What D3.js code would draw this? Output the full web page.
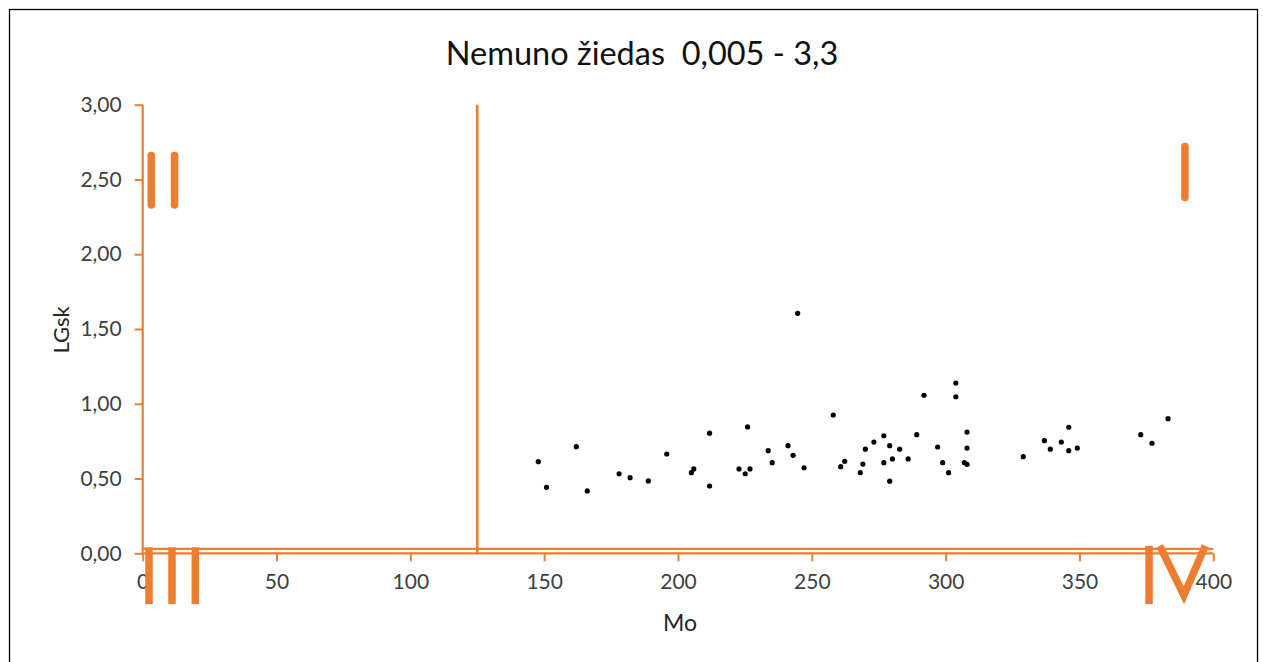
<!DOCTYPE html>
<html>
<head>
<meta charset="utf-8">
<script src="https://cdn.jsdelivr.net/npm/d3@7"></script>
<style>
  html, body { margin: 0; padding: 0; background: #fff; }
  svg { display: block; }
  text { font-family: Lato, "Open Sans", "Noto Sans", sans-serif; white-space: pre; }
</style>
</head>
<body>
<svg id="chart" width="1263" height="662"></svg>
<script>
// ---- data ----
const titleText = "Nemuno žiedas  0,005 - 3,3";
const xLabel = "Mo";
const yLabel = "LGsk";
const xTicks = [0, 50, 100, 150, 200, 250, 300, 350, 400];
const yTicks = [0, 0.5, 1, 1.5, 2, 2.5, 3];

const moValues = [147.8, 150.9, 162.0, 166.1, 178.0, 182.1, 188.9, 195.8, 205.0, 205.9,
  211.8, 211.8, 222.8, 225.1, 226.9, 226.0, 233.7, 235.2, 241.1, 243.0,
  244.7, 247.1, 258.0, 260.8, 262.3, 268.1, 269.1, 270.0, 273.2, 276.9,
  276.9, 279.1, 279.1, 280.1, 282.8, 286.0, 289.2, 291.9, 297.0, 298.9,
  301.1, 303.8, 303.8, 307.0, 308.0, 308.0, 308.0, 329.0, 336.9, 339.1,
  343.2, 346.0, 346.0, 349.2, 372.9, 377.1, 383.1];
const lgskValues = [0.613, 0.441, 0.713, 0.417, 0.532, 0.506, 0.484, 0.664, 0.539, 0.564,
  0.803, 0.450, 0.564, 0.532, 0.564, 0.845, 0.686, 0.606, 0.720, 0.655,
  1.605, 0.572, 0.925, 0.579, 0.615, 0.539, 0.597, 0.696, 0.744, 0.786,
  0.606, 0.720, 0.482, 0.631, 0.696, 0.631, 0.793, 1.057, 0.711, 0.606,
  0.539, 1.139, 1.047, 0.606, 0.595, 0.704, 0.811, 0.646, 0.753, 0.696,
  0.744, 0.843, 0.686, 0.704, 0.793, 0.736, 0.900];

// boundary lines (data units)
const boundaryV = [[125, 0], [125, 3]];
const boundaryH = [[0, 0.03], [400, 0.03]];

// zone labels drawn as thick line series (data units)
const zoneI   = [[[389.4, 2.38], [389.4, 2.72]]];
const zoneII  = [[[3.2, 2.33], [3.2, 2.66]], [[11.9, 2.33], [11.9, 2.66]]];
const zoneIII = [[[2.35, 0.04], [2.35, -0.34]], [[10.95, 0.04], [10.95, -0.34]], [[19.65, 0.04], [19.65, -0.34]]];
const zoneIV  = [[[376.0, 0.05], [376.0, -0.34]], [[380.0, 0.05], [389.0, -0.28], [397.0, 0.05]]];

// ---- drawing ----
const orange = "#ED7D31";
const svg = d3.select("#chart");
const x = d3.scaleLinear().domain([0, 400]).range([142.7, 1213.3]);
const y = d3.scaleLinear().domain([0, 3]).range([553.3, 104.7]);

// outer border
svg.append("rect").attr("x", 9.5).attr("y", 9.5).attr("width", 1248).attr("height", 700)
  .attr("fill", "none").attr("stroke", "#000").attr("stroke-width", 1.3);

// title
svg.append("text").attr("x", 642).attr("y", 65).attr("text-anchor", "middle")
  .attr("font-size", 32.5).attr("fill", "#111").text(titleText);

// axes
const xAxis = d3.axisBottom(x).tickValues(xTicks).tickSize(8).tickFormat(d3.format("d"));
const yAxis = d3.axisLeft(y).tickValues(yTicks).tickSize(8)
  .tickFormat(d => d3.format(".2f")(d).replace(".", ","));

const gx = svg.append("g").attr("transform", `translate(0,${y(0)})`).call(xAxis);
const gy = svg.append("g").attr("transform", `translate(${x(0)},0)`).call(yAxis);
[gx, gy].forEach(g => {
  g.select(".domain").attr("stroke", orange).attr("stroke-width", 2.2);
  g.selectAll(".tick line").attr("stroke", orange).attr("stroke-width", 2);
  g.selectAll(".tick text").attr("fill", "#404040").attr("font-size", 21)
    .attr("font-family", "Lato, 'Open Sans', sans-serif");
});
gx.select(".domain").attr("d", `M${x(0)},0H${x(400)}`);
gy.select(".domain").attr("d", `M0,${y(3)}V${y(0)}`);
gx.selectAll(".tick text").attr("dy", "1.2em");
gy.selectAll(".tick text").attr("x", -21);

// axis titles
svg.append("text").attr("x", 680).attr("y", 631).attr("text-anchor", "middle")
  .attr("font-size", 23).attr("fill", "#262626").text(xLabel);
svg.append("text").attr("transform", `translate(69,330) rotate(-90)`).attr("text-anchor", "middle")
  .attr("font-size", 22).attr("fill", "#262626").text(yLabel);

const line = d3.line().x(d => x(d[0])).y(d => y(d[1]));

// boundary lines
svg.append("path").attr("d", line(boundaryH)).attr("fill", "none")
  .attr("stroke", orange).attr("stroke-width", 2.2);
svg.append("path").attr("d", line(boundaryV)).attr("fill", "none")
  .attr("stroke", orange).attr("stroke-width", 2.6);

// zone labels
function zone(segs, cap) {
  segs.forEach(s => {
    svg.append("path").attr("d", line(s)).attr("fill", "none")
      .attr("stroke", orange).attr("stroke-width", 7.5)
      .attr("stroke-linecap", cap).attr("stroke-linejoin", "miter").attr("stroke-miterlimit", 10);
  });
}
zone(zoneI, "round");
zone(zoneII, "round");
zone(zoneIII, "butt");
zone(zoneIV, "butt");

// points
svg.append("g").selectAll("circle").data(moValues.map((m, i) => [m, lgskValues[i]]))
  .join("circle")
  .attr("cx", d => x(d[0])).attr("cy", d => y(d[1])).attr("r", 2.6)
  .attr("fill", "#000");
</script>
</body>
</html>
